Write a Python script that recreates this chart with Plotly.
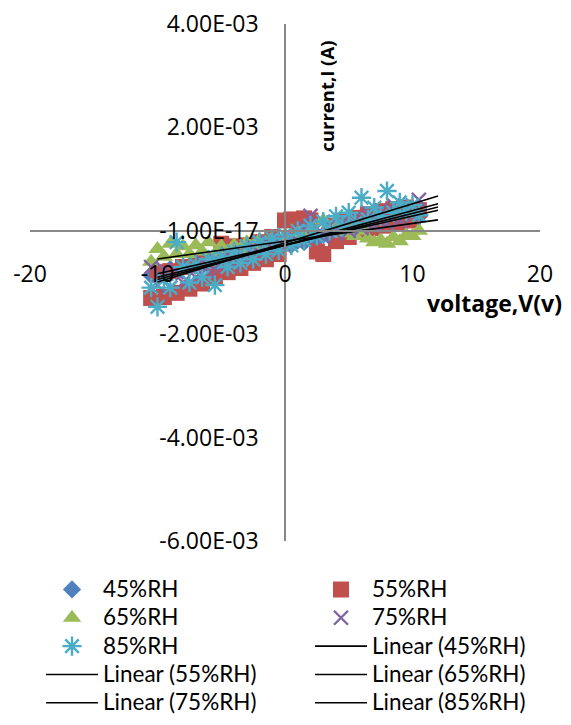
import plotly.graph_objects as go

# ---------------- data ----------------
voltage = [-10.5, -10, -9.5, -9, -8.5, -8, -7.5, -7, -6.5, -6, -5.5, -5, -4.5, -4,
           -3.5, -3, -2.5, -2, -1.5, -1, -0.5, 0, 0.5, 1, 1.5, 2, 2.5, 3, 3.5, 4,
           4.5, 5, 5.5, 6, 6.5, 7, 7.5, 8, 8.5, 9, 9.5, 10, 10.5]

# currents in mA (converted to A below)
current_45_mA = [-0.86, -0.78, -0.84, -0.74, -0.79, -0.70, -0.72, -0.64, -0.68, -0.58,
                 -0.61, -0.52, -0.55, -0.47, -0.49, -0.41, -0.44, -0.36, -0.38, -0.30,
                 -0.33, -0.25, -0.27, -0.19, -0.22, -0.14, -0.16, -0.08, -0.11, -0.03,
                 -0.05, 0.03, 0.01, 0.09, 0.06, 0.14, 0.12, 0.19, 0.17, 0.25, 0.22, 0.30, 0.28]
current_55_mA = [-1.30, -0.80, -1.28, -0.78, -1.20, -0.70, -1.12, -0.62, -1.02, -0.55,
                 -0.90, -0.25, -0.80, -0.30, -0.72, -0.28, -0.62, -0.22, -0.55, -0.12,
                 -0.45, 0.20, 0.22, -0.10, 0.24, 0.20, -0.40, -0.45, 0.10, -0.20,
                 0.20, -0.12, 0.25, 0.00, 0.32, 0.05, 0.38, 0.10, 0.42, 0.15, 0.45, 0.20, 0.40]
current_65_mA = [-0.60, -0.35, -0.50, -0.25, -0.45, -0.30, -0.45, -0.28, -0.40, -0.22,
                 -0.45, -0.30, -0.40, -0.28, -0.35, -0.22, -0.30, -0.18, -0.25, -0.15,
                 -0.22, -0.10, -0.18, -0.05, -0.12, 0.02, -0.05, 0.20, 0.00, 0.10,
                 -0.05, 0.05, -0.10, 0.00, -0.15, -0.22, -0.18, -0.25, -0.12, -0.20, -0.08, -0.10, 0.00]
current_75_mA = [-0.70, -1.05, -0.75, -1.10, -0.80, -1.00, -0.70, -0.90, -0.60, -0.80,
                 -0.55, -0.70, -0.45, -0.65, -0.40, -0.55, -0.30, -0.45, -0.20, -0.35,
                 -0.15, -0.30, -0.10, -0.20, 0.05, 0.29, 0.05, -0.10, 0.10, -0.05,
                 0.15, 0.00, 0.25, 0.05, 0.35, 0.10, 0.40, 0.15, 0.50, 0.20, 0.45, 0.30, 0.60]
current_85_mA = [-1.10, -1.47, -0.95, -1.10, -0.22, -0.70, -1.00, -0.65, -0.90, -0.55,
                 -1.05, -0.50, -0.70, -0.40, -0.62, -0.30, -0.55, -0.22, -0.45, -0.15,
                 -0.38, -0.08, -0.28, 0.00, -0.18, 0.10, -0.10, 0.18, 0.00, 0.28,
                 0.08, 0.35, 0.15, 0.64, 0.22, 0.45, 0.28, 0.77, 0.35, 0.55, 0.38, 0.50, 0.30]

# linear trendlines (end points, mA)
trend_x = [-10, 12]
trend_45_mA = [-0.83, 0.396]
trend_55_mA = [-0.94, 0.524]
trend_65_mA = [-0.545, 0.211]
trend_75_mA = [-0.90, 0.461]
trend_85_mA = [-0.99, 0.673]

series_names = ["45%RH", "55%RH", "65%RH", "75%RH", "85%RH"]

y_tickvals = [-6e-3, -4e-3, -2e-3, 0, 2e-3, 4e-3]
y_ticktext = ["-6.00E-03", "-4.00E-03", "-2.00E-03", "-1.00E-17", "2.00E-03", "4.00E-03"]
x_tickvals = [-20, -10, 0, 10, 20]
x_ticktext = ["-20", "-10", "0", "10", "20"]


def to_A(vals):
    return [v * 1e-3 for v in vals]


def legend_label(text):
    return '<span style="font-size:22.5px">' + text + '</span>'


currents = [current_45_mA, current_55_mA, current_65_mA, current_75_mA, current_85_mA]
trends = [trend_45_mA, trend_55_mA, trend_65_mA, trend_75_mA, trend_85_mA]

styles = [
    dict(symbol="diamond", size=14, color="#4F81BD", line=dict(width=0)),
    dict(symbol="square", size=16, color="#C0504D", line=dict(width=0)),
    dict(symbol="triangle-up", size=16, color="#9BBB59", line=dict(width=0)),
    dict(symbol="x-thin-open", size=14, color="#8064A2", line=dict(width=2.4, color="#8064A2")),
    dict(symbol="asterisk-open", size=16, color="#4BACC6", line=dict(width=2.4, color="#4BACC6")),
]

# two legend columns, filled row by row as in the reference
marker_legends = ["legend", "legend2", "legend", "legend2", "legend"]
trend_legends = ["legend2", "legend", "legend2", "legend", "legend2"]

TICK_FONT = "'Open Sans', Lato, sans-serif"
LEG_FONT = "Lato, 'Open Sans', sans-serif"

fig = go.Figure()
for name, cur, st, lg in zip(series_names, currents, styles, marker_legends):
    fig.add_trace(go.Scatter(x=voltage, y=to_A(cur), mode="markers",
                             name=legend_label(name), marker=st, legend=lg))
for name, tr, lg in zip(series_names, trends, trend_legends):
    fig.add_trace(go.Scatter(x=trend_x, y=to_A(tr), mode="lines",
                             name=legend_label("Linear (" + name + ")"), legend=lg,
                             line=dict(color="black", width=1.6)))

legend_common = dict(orientation="v", yanchor="top", xanchor="left", itemwidth=52,
                     font=dict(size=19.5, family=LEG_FONT), tracegroupgap=0,
                     traceorder="normal", bgcolor="rgba(0,0,0,0)")

fig.update_layout(
    width=555, height=709,
    margin=dict(l=22, r=23, t=16, b=176, autoexpand=False),
    paper_bgcolor="white", plot_bgcolor="white",
    font=dict(family=TICK_FONT, size=23, color="black"),
    showlegend=True,
    legend=dict(x=0.0216, y=-0.0565, **legend_common),
    legend2=dict(x=0.549, y=-0.0565, **legend_common),
    xaxis=dict(range=[-20, 20], tickvals=x_tickvals, ticktext=x_ticktext,
               showgrid=False, zeroline=False, showline=True, linecolor="#888888",
               linewidth=1.5, ticks="", anchor="free", position=0.6,
               ticklabelstandoff=23, ticklabeloverflow="allow",
               tickfont=dict(size=23, family=TICK_FONT)),
    yaxis=dict(range=[-6e-3, 4e-3], tickvals=y_tickvals, ticktext=y_ticktext,
               showgrid=False, zeroline=False, showline=True, linecolor="#888888",
               linewidth=1.5, ticks="", anchor="free", position=0.5,
               ticklabelstandoff=21, ticklabeloverflow="allow",
               tickfont=dict(size=23, family=TICK_FONT)),
    annotations=[
        dict(text="<b>voltage,V(v)</b>", xref="paper", yref="paper", x=0.91, y=0.4603,
             xanchor="center", yanchor="middle",
             showarrow=False, font=dict(size=23, family=TICK_FONT)),
        dict(text="<b>current,I (A)</b>", xref="paper", yref="paper", x=0.582, y=0.861,
             xanchor="center", yanchor="middle",
             showarrow=False, textangle=-90, font=dict(size=18.5, family=TICK_FONT)),
    ],
)

fig.write_html("out.html")
